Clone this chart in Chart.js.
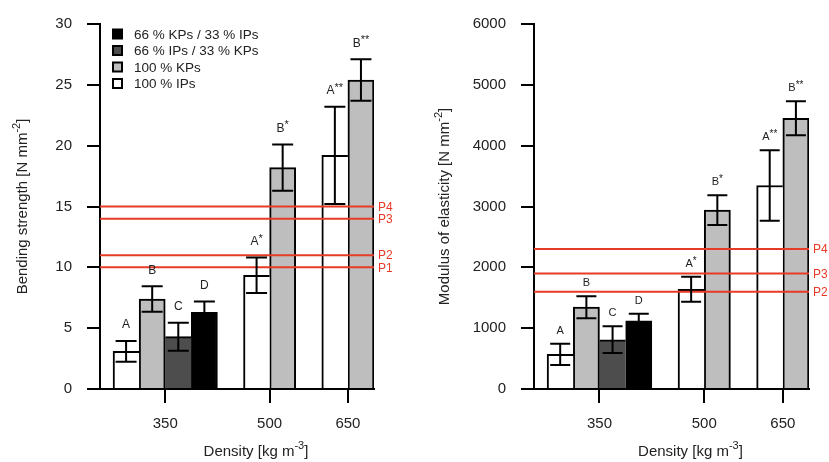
<!DOCTYPE html>
<html>
<head>
<meta charset="utf-8">
<script src="https://cdn.jsdelivr.net/npm/chart.js@4.4.1/dist/chart.umd.min.js"></script>
<style>
    html, body { margin: 0; padding: 0; background: #fff; }
    #wrap { position: relative; width: 829px; height: 462px; }
    canvas { position: absolute; top: 0; }
</style>
</head>
<body>
<div id="wrap">
    <canvas id="morChart" width="415" height="462" style="left:0"></canvas>
    <canvas id="moeChart" width="414" height="462" style="left:415px"></canvas>
</div>
<script>
// density groups and the four board mixes
const densities = ['350', '500', '650'];
const seriesNames = ['100 % IPs', '100 % KPs', '66 % IPs / 33 % KPs', '66 % KPs / 33 % IPs'];
const seriesColors = ['#ffffff', '#bebebe', '#4d4d4d', '#000000'];

// bending strength [N mm-2], null = mix not produced at that density
const morIP = [3.1, 9.35, 19.2];
const morKP = [7.4, 18.2, 25.4];
const morIPKP = [4.3, null, null];
const morKPIP = [6.3, null, null];
const morErrIP = [0.85, 1.45, 4.0];
const morErrKP = [1.05, 1.9, 1.7];
const morErrIPKP = [1.15, null, null];
const morErrKPIP = [0.9, null, null];
const morTicks = [0, 5, 10, 15, 20, 25, 30];
const morLimits = [10, 11, 14, 15];
const morLimitNames = ['P1', 'P2', 'P3', 'P4'];

// modulus of elasticity [N mm-2]
const moeIP = [570, 1640, 3345];
const moeKP = [1345, 2940, 4450];
const moeIPKP = [810, null, null];
const moeKPIP = [1120, null, null];
const moeErrIP = [175, 205, 580];
const moeErrKP = [180, 245, 280];
const moeErrIPKP = [220, null, null];
const moeErrKPIP = [115, null, null];
const moeTicks = [0, 1000, 2000, 3000, 4000, 5000, 6000];
const moeLimits = [1600, 1900, 2300];
const moeLimitNames = ['P2', 'P3', 'P4'];

// significance letters (same for both properties)
const lettersIP = ['A', 'A*', 'A**'];
const lettersKP = ['B', 'B*', 'B**'];
const lettersIPKP = ['C', null, null];
const lettersKPIP = ['D', null, null];

const FONT = "'Liberation Sans', Arial, sans-serif";
const RED = '#e63b26';
const TEXT = '#222';

Chart.defaults.font.family = FONT;

// bars side by side inside a group, one empty slot between groups
function slotLayout(series) {
    const xs = series.map(() => []);
    const centers = [];
    let pos = 1;
    densities.forEach((d, i) => {
        const start = pos;
        series.forEach((vals, s) => {
            xs[s][i] = vals[i] === null ? null : pos++;
        });
        centers.push((start + pos - 1) / 2);
        pos++;
    });
    return { xs, centers, max: pos - 1.5 };
}

// text with optional superscript parts, centred on (cx, cy)
function drawRich(ctx, parts, cx, cy) {
    let total = 0;
    parts.forEach(p => {
        ctx.font = p.size + 'px ' + FONT;
        p.w = ctx.measureText(p.t).width;
        total += p.w;
    });
    let x = cx - total / 2;
    ctx.textAlign = 'left';
    ctx.textBaseline = 'middle';
    parts.forEach(p => {
        ctx.font = p.size + 'px ' + FONT;
        ctx.fillText(p.t, x, cy + (p.dy || 0));
        x += p.w;
    });
}

function letterParts(tag, size) {
    const stars = tag.replace(/[^*]/g, '');
    const parts = [{ t: tag.replace(/\*/g, ''), size: size }];
    if (stars) parts.push({ t: stars, size: size - 1, dy: -3 });
    return parts;
}

// mix order: white, light grey, dark grey, black -> edges shared without doubling
const borders = [
    { top: 2, left: 2, right: 0, bottom: 0 },
    { top: 2, left: 2, right: 2, bottom: 0 },
    { top: 2, left: 0, right: 0, bottom: 0 },
    { top: 2, left: 2, right: 2, bottom: 0 }
];

function buildChart(id, opt) {
    const lay = slotLayout(opt.values);
    const allLetters = [lettersIP, lettersKP, lettersIPKP, lettersKPIP];

    const datasets = opt.values.map((vals, s) => ({
        type: 'bar',
        label: seriesNames[s],
        data: vals.map((v, i) => v === null ? null :
            { x: lay.xs[s][i], y: v, err: opt.errors[s][i], tag: allLetters[s][i] }).filter(p => p),
        backgroundColor: seriesColors[s],
        borderColor: '#000',
        borderWidth: borders[s],
        borderSkipped: false,
        grouped: false,
        categoryPercentage: 1,
        barPercentage: 1,
        order: 1
    }));

    opt.limits.forEach((v, k) => {
        datasets.push({
            type: 'line',
            label: opt.limitNames[k],
            data: [{ x: 0, y: v }, { x: lay.max, y: v }],
            borderColor: RED,
            borderWidth: 2,
            pointRadius: 0,
            fill: false,
            order: 0
        });
    });

    const errorBars = {
        id: 'errorBars',
        afterDatasetsDraw(chart) {
            const ctx = chart.ctx;
            const y = chart.scales.y;
            ctx.save();
            ctx.strokeStyle = '#000';
            ctx.lineWidth = 2;
            chart.data.datasets.forEach((ds, i) => {
                if (ds.type !== 'bar') return;
                chart.getDatasetMeta(i).data.forEach((el, j) => {
                    const p = ds.data[j];
                    const top = y.getPixelForValue(p.y + p.err);
                    const bot = y.getPixelForValue(p.y - p.err);
                    const half = opt.capWidth / 2;
                    ctx.beginPath();
                    ctx.moveTo(el.x, top); ctx.lineTo(el.x, bot);
                    ctx.moveTo(el.x - half, top); ctx.lineTo(el.x + half, top);
                    ctx.moveTo(el.x - half, bot); ctx.lineTo(el.x + half, bot);
                    ctx.stroke();
                    ctx.fillStyle = TEXT;
                    drawRich(ctx, letterParts(p.tag, opt.letterSize), el.x, top - opt.letterGap);
                });
            });
            ctx.restore();
        }
    };

    const decorations = {
        id: 'decorations',
        afterDraw(chart) {
            const ctx = chart.ctx;
            const area = chart.chartArea;
            const y = chart.scales.y;
            ctx.save();

            // limit names at the right end of the red lines
            ctx.fillStyle = RED;
            ctx.font = '12px ' + FONT;
            ctx.textAlign = 'left';
            ctx.textBaseline = 'middle';
            opt.limits.forEach((v, k) => {
                ctx.fillText(opt.limitNames[k], area.right + 4, y.getPixelForValue(v) + 1);
            });

            // axis titles
            ctx.fillStyle = TEXT;
            drawRich(ctx, [{ t: 'Density [kg m', size: 15 }, { t: '-3', size: 11, dy: -6 }, { t: ']', size: 15 }],
                (area.left + area.right) / 2 + 19, 452);
            ctx.save();
            ctx.translate(opt.yTitleX, (area.top + area.bottom) / 2);
            ctx.rotate(-Math.PI / 2);
            drawRich(ctx, [{ t: opt.yTitle + ' [N mm', size: 15 }, { t: '-2', size: 11, dy: -6 }, { t: ']', size: 15 }], 0, 0);
            ctx.restore();

            // legend, black mix first
            if (opt.legend) {
                const rows = [3, 2, 1, 0];
                rows.forEach((s, r) => {
                    const cy = 34 + r * 16.5;
                    ctx.fillStyle = '#000';
                    ctx.fillRect(112, cy - 5.5, 11, 11);
                    if (s < 3) {
                        ctx.fillStyle = seriesColors[s];
                        ctx.fillRect(114, cy - 3.5, 7, 7);
                    }
                    ctx.fillStyle = TEXT;
                    ctx.font = '13.5px ' + FONT;
                    ctx.textAlign = 'left';
                    ctx.textBaseline = 'middle';
                    ctx.fillText(seriesNames[s], 134, cy + 1);
                });
            }
            ctx.restore();
        }
    };

    return new Chart(document.getElementById(id), {
        type: 'bar',
        data: { datasets: datasets },
        options: {
            responsive: false,
            animation: false,
            layout: { padding: { top: opt.padTop, right: opt.padRight, left: 0, bottom: 0 } },
            plugins: { legend: { display: false }, tooltip: { enabled: false } },
            scales: {
                x: {
                    type: 'linear',
                    min: 0,
                    max: lay.max,
                    offset: false,
                    afterBuildTicks: scale => { scale.ticks = lay.centers.map(v => ({ value: v })); },
                    afterFit: scale => { scale.height = 73; },
                    ticks: {
                        autoSkip: false,
                        maxRotation: 0,
                        padding: 12,
                        color: TEXT,
                        font: { size: 15 },
                        callback: (v, i) => densities[i]
                    },
                    grid: { drawOnChartArea: false, drawTicks: true, tickLength: 14, color: '#000', lineWidth: 2, offset: false },
                    border: { display: true, color: '#000', width: 2 }
                },
                y: {
                    min: opt.ticks[0],
                    max: opt.ticks[opt.ticks.length - 1],
                    afterBuildTicks: scale => { scale.ticks = opt.ticks.map(v => ({ value: v })); },
                    afterFit: scale => { scale.width = opt.yWidth; },
                    ticks: { padding: 15, color: TEXT, font: { size: 15 }, callback: v => String(v) },
                    grid: { drawOnChartArea: false, drawTicks: true, tickLength: 13, color: '#000', lineWidth: 2 },
                    border: { display: true, color: '#000', width: 2 }
                }
            }
        },
        plugins: [errorBars, decorations]
    });
}

buildChart('morChart', {
    values: [morIP, morKP, morIPKP, morKPIP],
    errors: [morErrIP, morErrKP, morErrIPKP, morErrKPIP],
    ticks: morTicks,
    limits: morLimits,
    limitNames: morLimitNames,
    yTitle: 'Bending strength',
    yTitleX: 23,
    yWidth: 100,
    padTop: 18,
    padRight: 41,
    capWidth: 21,
    letterSize: 12,
    letterGap: 16,
    legend: true
});

buildChart('moeChart', {
    values: [moeIP, moeKP, moeIPKP, moeKPIP],
    errors: [moeErrIP, moeErrKP, moeErrIPKP, moeErrKPIP],
    ticks: moeTicks,
    limits: moeLimits,
    limitNames: moeLimitNames,
    yTitle: 'Modulus of elasticity',
    yTitleX: 30,
    yWidth: 119,
    padTop: 16,
    padRight: 20,
    capWidth: 20,
    letterSize: 11,
    letterGap: 13,
    legend: false
});
</script>
</body>
</html>
